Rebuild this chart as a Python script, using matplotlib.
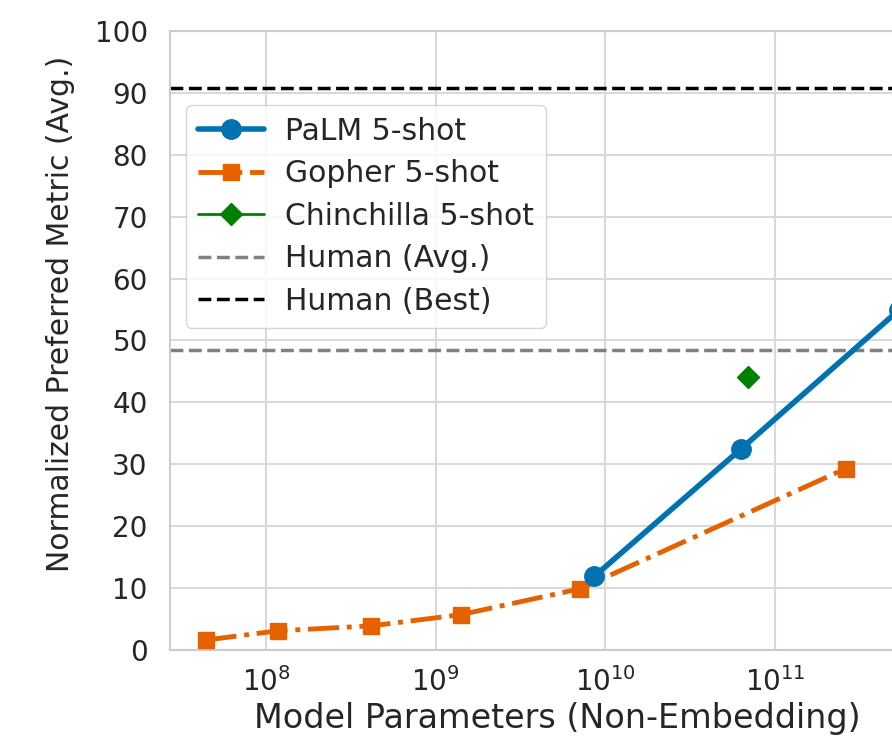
import matplotlib
matplotlib.use("Agg")
import matplotlib.pyplot as plt
import seaborn as sns

# Non-embedding parameters and normalized preferred metric (avg.)
palm_params = [8.6e9, 6.3e10, 5.4e11]
palm_scores = [11.9, 32.5, 55.0]

gopher_params = [4.4e7, 1.17e8, 4.17e8, 1.4e9, 7.1e9, 2.6e11]
gopher_scores = [1.6, 3.1, 3.9, 5.7, 9.9, 29.3]

chinchilla_params = [6.9e10]
chinchilla_scores = [44.1]

human_avg = 48.4
human_best = 90.8

xticks = [1e8, 1e9, 1e10, 1e11]
yticks = list(range(0, 101, 10))

sns.set_style("whitegrid", {"grid.color": ".85", "axes.edgecolor": ".8"})
plt.rcParams['font.family'] = ['DejaVu Sans']
plt.rcParams['font.size'] = 20

fig = plt.figure(figsize=(8.92, 7.41), dpi=100)
# axes extends beyond the right edge, like the cropped original
ax = fig.add_axes([0.1906, 0.1228, 0.8687, 0.8354])

ax.plot(palm_params, palm_scores, '-o', color='#0072B2', lw=4, ms=14,
        label='PaLM 5-shot', zorder=4)
ax.plot(gopher_params, gopher_scores, '-.s', color='#E66100', lw=3.5, ms=12,
        label='Gopher 5-shot', zorder=3)
ax.plot(chinchilla_params, chinchilla_scores, '-D', color='green', lw=2, ms=11,
        label='Chinchilla 5-shot', zorder=3)
ax.axhline(human_avg, color='gray', ls='--', lw=2.5, label='Human (Avg.)', zorder=2)
ax.axhline(human_best, color='black', ls='--', lw=2.5, label='Human (Best)', zorder=2)

ax.set_xscale('log')
ax.set_xlim(10**7.434, 1e12)
ax.set_ylim(0, 100)
ax.set_xticks(xticks)
ax.set_yticks(yticks)
ax.grid(True, which='major', lw=1.5)
ax.minorticks_off()
ax.tick_params(axis='y', length=0, pad=16, labelsize=20, colors='#262626')
ax.tick_params(axis='x', length=0, pad=12, labelsize=20, colors='#262626')
for s in ax.spines.values():
    s.set_linewidth(1.5)

ax.set_xlabel('Model Parameters (Non-Embedding)', fontsize=24, color='#262626', va='center')
ax.set_ylabel('Normalized Preferred Metric (Avg.)', fontsize=21.5, color='#262626')
ax.xaxis.set_label_coords(0.5, -0.110)
ax.yaxis.set_label_coords(-0.123, 0.543)

leg = ax.legend(loc='upper left', bbox_to_anchor=(186 / 892, 1 - 105 / 741),
                bbox_transform=fig.transFigure, borderaxespad=0, fontsize=21.5,
                handlelength=2.2, handletextpad=0.73, labelspacing=0.45,
                frameon=True, fancybox=True)
leg.get_frame().set_edgecolor('.8')
for t in leg.get_texts():
    t.set_color('#262626')

fig.savefig('out.png', dpi=100)
